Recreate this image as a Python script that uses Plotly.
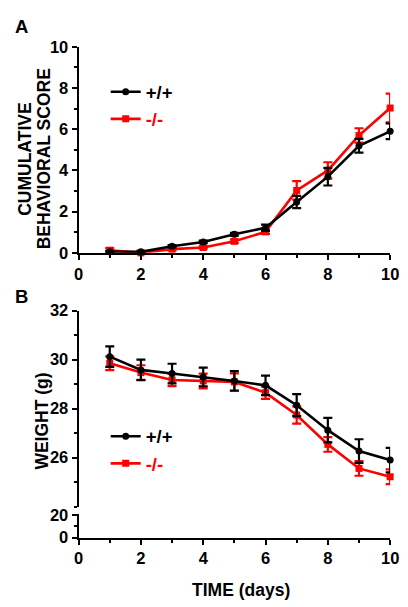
import plotly.graph_objects as go

days = [1, 2, 3, 4, 5, 6, 7, 8, 9, 10]

# Panel A: cumulative behavioral score
score_wt = [0.05, 0.05, 0.32, 0.53, 0.90, 1.22, 2.47, 3.70, 5.20, 5.90]
score_wt_err = [0.05, 0.05, 0.06, 0.06, 0.07, 0.15, 0.30, 0.43, 0.33, 0.38]
score_ko = [0.13, 0.0, 0.18, 0.26, 0.56, 1.02, 3.03, 4.00, 5.70, 7.03]
score_ko_err = [0.10, 0.04, 0.06, 0.06, 0.08, 0.10, 0.45, 0.40, 0.35, 0.70]

# Panel B: weight (g)
weight_wt = [30.12, 29.58, 29.43, 29.29, 29.13, 28.95, 28.14, 27.12, 26.27, 25.90]
weight_wt_err = [0.42, 0.42, 0.40, 0.38, 0.40, 0.40, 0.45, 0.50, 0.48, 0.50]
weight_ko = [29.85, 29.47, 29.17, 29.13, 29.09, 28.65, 27.74, 26.54, 25.56, 25.22]
weight_ko_err = [0.28, 0.30, 0.25, 0.30, 0.35, 0.25, 0.35, 0.30, 0.30, 0.30]

names = ["+/+", "-/-"]
BLACK = "#000000"
RED = "#ff0000"
FONT = "Liberation Sans"
W, H = 408, 607
# measured page->screenshot mapping: screen = s * (fig + 8) + c
SX, CX, SY, CY, OFF = 0.964, 4.8, 0.975, 6.2, 8


def fpx_x(s):
    return (s - CX) / SX - OFF


def fpx_y(s):
    return (s - CY) / SY - OFF


def px_x(s):
    return fpx_x(s) / W


def px_y(s):
    return 1 - fpx_y(s) / H


fig = go.Figure()


def add_series(x, y, err, color, symbol, name, xa, ya, legend):
    fig.add_trace(go.Scatter(
        x=x, y=y, mode="lines+markers", name=name,
        line=dict(color=color, width=2.6),
        marker=dict(color=color, size=7, symbol=symbol),
        error_y=dict(type="data", array=err, color=color, thickness=2.2, width=4.5),
        xaxis=xa, yaxis=ya, cliponaxis=False,
        legend=legend, legendgroup=name + legend,
    ))


red_name = "<span style='color:#ff0000'>" + names[1] + "</span>"

# Panel A (red first, black on top)
add_series(days, score_ko, score_ko_err, RED, "square", red_name, "x", "y", "legend")
add_series(days, score_wt, score_wt_err, BLACK, "circle", names[0], "x", "y", "legend")
# Panel B
add_series(days, weight_ko, weight_ko_err, RED, "square", red_name, "x2", "y2", "legend2")
add_series(days, weight_wt, weight_wt_err, BLACK, "circle", names[0], "x2", "y2", "legend2")
# empty trace owning the lower segment of the broken axis
fig.add_trace(go.Scatter(x=[], y=[], xaxis="x2", yaxis="y3", showlegend=False))

tickfont = dict(family=FONT, size=16.5, color=BLACK, weight="bold")
axis_common = dict(showline=True, linecolor=BLACK, linewidth=2, ticks="outside",
                   ticklen=5, tickwidth=2, tickcolor=BLACK, showgrid=False,
                   zeroline=False, tickfont=tickfont)
minor = dict(ticks="outside", ticklen=3, tickwidth=1.5, tickcolor=BLACK, dtick=1, showgrid=False)

xdom = [px_x(78), px_x(389)]
legend_font = dict(family=FONT, size=18.5, color=BLACK, weight="bold")

fig.update_layout(
    width=W, height=H,
    margin=dict(l=0, r=0, t=0, b=0),
    paper_bgcolor="white", plot_bgcolor="white",
    xaxis=dict(domain=xdom, range=[0, 10], tickvals=[0, 2, 4, 6, 8, 10],
               anchor="y", minor=minor, **axis_common),
    yaxis=dict(domain=[px_y(251), px_y(44)], range=[0, 10], tickvals=[0, 2, 4, 6, 8, 10],
               anchor="x", minor=minor, **axis_common),
    xaxis2=dict(domain=xdom, range=[0, 10], tickvals=[0, 2, 4, 6, 8, 10],
                anchor="y3", minor=minor, **axis_common),
    yaxis2=dict(domain=[px_y(506), px_y(309)], range=[24, 32], tickvals=[26, 28, 30, 32],
                anchor="x2", minor=minor, **axis_common),
    yaxis3=dict(domain=[px_y(537), px_y(513)], range=[0, 21], tickvals=[0, 20],
                anchor="x2", minor=dict(ticks="outside", ticklen=3, tickwidth=1.5,
                                        tickcolor=BLACK, dtick=10, showgrid=False),
                **axis_common),
    legend=dict(x=96 / W, y=1 - 58 / H, xanchor="left", yanchor="top",
                bgcolor="rgba(0,0,0,0)", traceorder="reversed", tracegroupgap=8,
                itemwidth=30, font=legend_font),
    legend2=dict(x=96 / W, y=1 - 413 / H, xanchor="left", yanchor="top",
                 bgcolor="rgba(0,0,0,0)", traceorder="reversed", tracegroupgap=7,
                 itemwidth=30, font=legend_font),
)

title_font = dict(family=FONT, size=17.5, color=BLACK, weight="bold")
label_font = dict(family=FONT, size=18.5, color=BLACK, weight="bold")
ann = [
    dict(text="A", x=0, y=1, xanchor="left", yanchor="top", yshift=3, font=label_font),
    dict(text="B", x=max(px_x(8), 0), y=px_y(282), xanchor="left", yanchor="top",
         font=label_font),
    dict(text="CUMULATIVE", x=px_x(25), y=px_y(157), textangle=-90,
         xanchor="center", yanchor="middle", font=title_font),
    dict(text="BEHAVIORAL SCORE", x=px_x(43.5), y=px_y(157), textangle=-90,
         xanchor="center", yanchor="middle", font=title_font),
    dict(text="WEIGHT (g)", x=px_x(42), y=px_y(420), textangle=-90,
         xanchor="center", yanchor="middle", font=title_font),
    dict(text="TIME (days)", x=px_x(240), y=px_y(590),
         xanchor="center", yanchor="middle", font=title_font),
]
for a in ann:
    a.update(xref="paper", yref="paper", showarrow=False)
fig.update_layout(annotations=ann)

fig.write_html("out.html")
